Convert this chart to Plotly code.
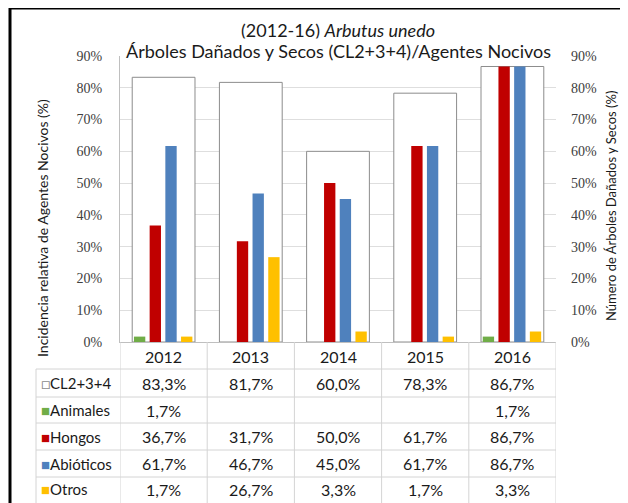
import plotly.graph_objects as go

# datos (%)
years = ["2012", "2013", "2014", "2015", "2016"]
cl234 = [83.3, 81.7, 60.0, 78.3, 86.7]
animales = [1.7, None, None, None, 1.7]
hongos = [36.7, 31.7, 50.0, 61.7, 86.7]
abioticos = [61.7, 46.7, 45.0, 61.7, 86.7]
otros = [1.7, 26.7, 3.3, 1.7, 3.3]
yticks = [0, 10, 20, 30, 40, 50, 60, 70, 80, 90]
ytext = [str(v) + "%" for v in yticks]

OFF = 8  # margen del body en la pagina
W, H = 628 - OFF, 503 - OFF
L, R, T, B = 120, 556, 56, 342  # area del grafico (px de pagina)


def px_x(p):
    return (p - L) / (R - L)


def px_y(p):
    return (B - p) / (B - T)


def fmt(v):
    return "" if v is None else ("%.1f" % v).replace(".", ",") + "%"


xs = list(range(len(years)))
sans = "Lato"
serif = "Liberation Serif"
txt = "#1a1a1a"

series = [
    ("Animales", animales, "#70AD47", -0.34),
    ("Hongos", hongos, "#C00000", -0.16),
    ("Abióticos", abioticos, "#4F81BD", 0.02),
    ("Otros", otros, "#FFC000", 0.20),
]

fig = go.Figure()
# CL2+3+4 detras
fig.add_trace(go.Bar(x=xs, y=cl234, name="CL2+3+4", width=0.72, offset=-0.36,
                     marker=dict(color="white", line=dict(color="#8c8c8c", width=1))))
for name, vals, col, off in series:
    fig.add_trace(go.Bar(x=xs, y=vals, name=name, width=0.13, offset=off, yaxis="y2",
                         marker=dict(color=col, line=dict(width=0))))


def note(x, y, text, size, xref="paper", **kw):
    d = dict(x=x, y=y, xref=xref, yref="paper", showarrow=False, text=text,
             xanchor="center", yanchor="middle", font=dict(family=sans, size=size, color=txt))
    d.update(kw)
    return d


ann = [
    note(0.5, px_y(30), "(2012-16) <i>Arbutus unedo</i>", 18),
    note(0.5, px_y(51), "Árboles Dañados y Secos (CL2+3+4)/Agentes Nocivos", 18, bgcolor="white"),
    note(px_x(42), px_y(228), "Incidencia relativa de Agentes Nocivos (%)", 14, textangle=-90),
    note(px_x(611), px_y(206), "Número de Árboles Dañados y Secos (%)", 13, textangle=-90),
]

# tabla de datos
row_lines = [369, 397, 423, 450, 477]
row_mid = [383, 410, 436.5, 463.5, 489]
rows = [
    ('<span style="color:#8c8c8c">□</span>CL2+3+4', cl234),
    ('<span style="color:#70AD47">■</span>Animales', animales),
    ('<span style="color:#C00000">■</span>Hongos', hongos),
    ('<span style="color:#4F81BD">■</span>Abióticos', abioticos),
    ('<span style="color:#FFC000">■</span>Otros', otros),
]
for i, y in enumerate(years):
    ann.append(note(i, px_y(356), y, 16, xref="x"))
for (label, vals), ym in zip(rows, row_mid):
    ann.append(note(px_x(39), px_y(ym), label, 15, xanchor="left"))
    for i, v in enumerate(vals):
        ann.append(note(i, px_y(ym), fmt(v), 16, xref="x"))

shapes = []
grid_c = "#d4d4d4"
for yl in row_lines:
    shapes.append(dict(type="line", xref="paper", yref="paper", x0=px_x(36), x1=1, y0=px_y(yl), y1=px_y(yl),
                       line=dict(color=grid_c, width=1)))
for k in range(len(years) + 1):
    shapes.append(dict(type="line", xref="x", yref="paper", x0=k - 0.5, x1=k - 0.5, y0=0, y1=px_y(510),
                       line=dict(color=grid_c, width=1)))
shapes.append(dict(type="line", xref="paper", yref="paper", x0=px_x(36), x1=px_x(36), y0=px_y(369), y1=px_y(510),
                   line=dict(color=grid_c, width=1)))
# marco exterior
shapes.append(dict(type="line", xref="paper", yref="paper", x0=px_x(10), x1=px_x(10), y0=px_y(6), y1=px_y(510),
                   line=dict(color="black", width=3)))
shapes.append(dict(type="line", xref="paper", yref="paper", x0=px_x(9), x1=px_x(640), y0=px_y(8), y1=px_y(8),
                   line=dict(color="black", width=3)))

fig.update_layout(
    width=W, height=H,
    margin=dict(l=L - OFF, r=W - (R - OFF), t=T - OFF, b=H - (B - OFF), pad=0),
    paper_bgcolor="white", plot_bgcolor="white",
    barmode="overlay", showlegend=False,
    xaxis=dict(range=[-0.5, 4.5], showticklabels=False, showgrid=False, zeroline=False,
               showline=True, linecolor="#bfbfbf", linewidth=1),
    yaxis=dict(range=[0, 90], tickmode="array", tickvals=yticks, ticktext=ytext,
               showgrid=True, gridcolor="#dedede", zeroline=False, showline=True, linecolor="#bfbfbf",
               ticks="", ticklabelstandoff=14, tickfont=dict(family=serif, size=14, color="#404040")),
    yaxis2=dict(range=[0, 90], tickmode="array", tickvals=yticks, ticktext=ytext,
                overlaying="y", side="right", showgrid=False, zeroline=False, showline=False,
                ticks="", ticklabelstandoff=14, tickfont=dict(family=serif, size=14, color="#404040")),
    annotations=ann, shapes=shapes,
)

fig.write_html("out.html")
